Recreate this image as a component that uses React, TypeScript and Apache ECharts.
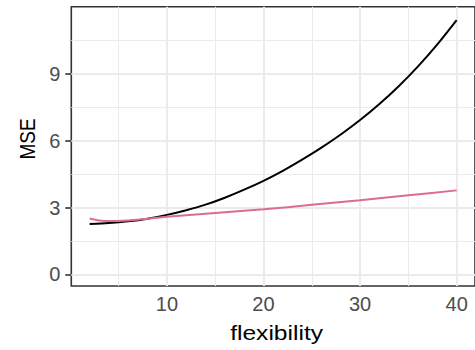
import React, { useEffect, useRef } from "react";
import * as echarts from "echarts";

const blackX = [2, 4, 6, 8, 10, 12, 14, 16, 18, 20, 22, 24, 26, 28, 30, 32, 34, 36, 38, 40];
const blackY = [2.26, 2.3, 2.38, 2.5, 2.67, 2.88, 3.13, 3.44, 3.8, 4.2, 4.65, 5.15, 5.69, 6.28, 6.93, 7.65, 8.45, 9.34, 10.33, 11.42];
const pinkX = [2, 3, 4, 6, 8, 10, 14, 20, 25, 30, 35, 40];
const pinkY = [2.51, 2.42, 2.39, 2.42, 2.5, 2.58, 2.72, 2.92, 3.12, 3.33, 3.55, 3.77];

const xTicks = [10, 20, 30, 40];
const xMinor = [5, 15, 25, 35];
const yTicks = [0, 3, 6, 9];
const yMinor = [1.5, 4.5, 7.5, 10.5];

const FONT = "'Liberation Sans', Arial, Helvetica, sans-serif";

export default function App() {
  const ref = useRef<HTMLDivElement>(null);
  useEffect(() => {
    if (!ref.current) return;
    document.body.style.margin = "0";
    const chart = echarts.init(ref.current, null, { renderer: "svg" });
    const gridLine = (axis: "xAxis" | "yAxis", v: number, w: number) => ({
      [axis]: v,
      lineStyle: { color: "#EBEBEB", width: w, type: "solid" },
    });
    chart.setOption({
      animation: false,
      backgroundColor: "#ffffff",
      grid: {
        left: 71.3,
        right: -7.4,
        top: 6.7,
        bottom: 64,
        show: true,
        borderColor: "#333333",
        borderWidth: 1.6,
        backgroundColor: "transparent",
      },
      xAxis: {
        type: "value",
        min: 0.1,
        max: 41.9,
        axisLine: { show: false },
        splitLine: { show: false },
        axisTick: {
          show: true,
          customValues: xTicks,
          length: 6,
          lineStyle: { color: "#333333", width: 1.6 },
        },
        axisLabel: {
          customValues: xTicks,
          color: "#4D4D4D",
          fontSize: 20,
          fontFamily: FONT,
          margin: 8,
        },
      },
      yAxis: {
        type: "value",
        min: -0.525,
        max: 12.02,
        axisLine: { show: false },
        splitLine: { show: false },
        axisTick: {
          show: true,
          customValues: yTicks,
          length: 6,
          lineStyle: { color: "#333333", width: 1.6 },
        },
        axisLabel: {
          customValues: yTicks,
          color: "#4D4D4D",
          fontSize: 20,
          fontFamily: FONT,
          margin: 11,
        },
      },
      series: [
        {
          type: "line",
          data: [],
          z: 1,
          silent: true,
          markLine: {
            silent: true,
            z: 1,
            symbol: "none",
            label: { show: false },
            data: [
              ...xMinor.map((v) => gridLine("xAxis", v, 1)),
              ...yMinor.map((v) => gridLine("yAxis", v, 1)),
              ...xTicks.map((v) => gridLine("xAxis", v, 2)),
              ...yTicks.map((v) => gridLine("yAxis", v, 2)),
            ],
          },
        },
        {
          type: "line",
          data: blackX.map((x, i) => [x, blackY[i]]),
          showSymbol: false,
          smooth: 0.3,
          z: 6,
          lineStyle: { color: "#000000", width: 2 },
        },
        {
          type: "line",
          data: pinkX.map((x, i) => [x, pinkY[i]]),
          showSymbol: false,
          smooth: 0.3,
          z: 7,
          lineStyle: { color: "#DB6C95", width: 2 },
        },
      ],
      graphic: [
        {
          type: "text",
          x: 276.6,
          y: 333.5,
          scaleX: 1.2,
          style: {
            text: "flexibility",
            fontSize: 20.5,
            fontFamily: FONT,
            fill: "#000000",
            align: "center",
            verticalAlign: "middle",
          },
        },
        {
          type: "text",
          x: 27,
          y: 139,
          rotation: Math.PI / 2,
          scaleY: 1.2,
          style: {
            text: "MSE",
            fontSize: 19,
            fontFamily: FONT,
            fill: "#000000",
            align: "center",
            verticalAlign: "middle",
          },
        },
      ],
    });
    return () => chart.dispose();
  }, []);
  return <div ref={ref} style={{ width: 475, height: 350 }} />;
}
